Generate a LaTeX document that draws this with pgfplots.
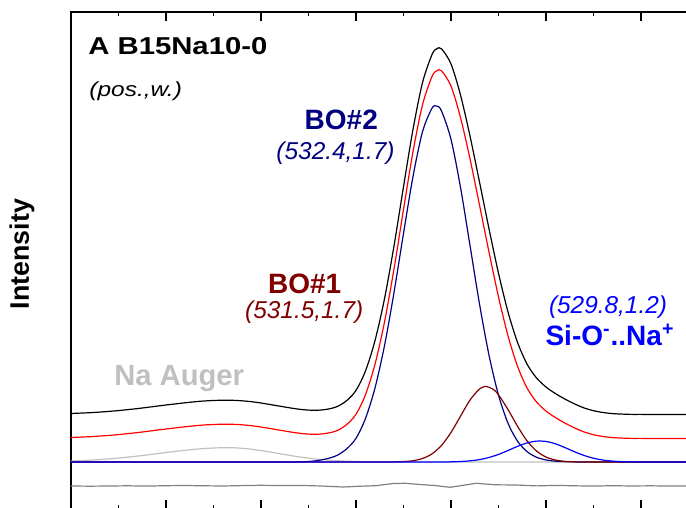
\documentclass[border=0pt]{standalone}
\usepackage{fontspec}
\setmainfont{Liberation Sans}
\usepackage{graphicx}
\usepackage{pgfplots}
\pgfplotsset{compat=1.18}
\definecolor{navyc}{HTML}{000080}
\definecolor{maroonc}{HTML}{800000}
\definecolor{bluec}{HTML}{0000FF}
\definecolor{redc}{HTML}{FF0000}
\definecolor{augerc}{HTML}{C0C0C0}
\definecolor{residc}{HTML}{808080}
\begin{document}
\begin{tikzpicture}
\useasboundingbox (0,0) rectangle (343pt,254pt);
\clip (0,0) rectangle (343pt,254pt);
\begin{axis}[
  at={(35.5pt,-0.75pt)}, anchor=south west,
  scale only axis, width=332.5pt, height=248.75pt,
  x dir=reverse, xmin=526, xmax=540, ymin=-47.5, ymax=450,
  xtick={526,528,...,540}, minor x tick num=1, xticklabels={},
  ytick=\empty, xtick pos=both, tick align=inside,
  major tick length=4.5pt, minor tick length=2.25pt,
  axis line style={line width=0.8pt},
  every tick/.style={black, line width=0.8pt},
  clip=true,
]
% residual
\addplot[residc, line width=0.6pt] coordinates {
(540.0,-24.0)(539.6,-24.2)(539.2,-24.0)(538.8,-23.8)(538.4,-24.1)(538.0,-23.7)
(537.6,-23.5)(537.2,-23.8)(536.8,-24.0)(536.4,-23.6)(536.0,-23.3)(535.6,-23.6)
(535.2,-23.4)(534.8,-23.9)(534.27,-25.0)(533.9,-24.2)(533.58,-23.7)(533.22,-21.5)
(532.97,-21.3)(532.65,-22.5)(532.34,-23.5)(532.02,-25.3)(531.77,-23.5)(531.47,-21.3)
(531.07,-22.8)(530.63,-23.0)(530.2,-23.9)(529.8,-23.4)(529.4,-23.8)(529.0,-24.1)
(528.6,-23.7)(528.2,-24.0)(527.8,-23.8)(527.4,-24.1)(527.0,-23.9)(526.6,-24.0)(526.0,-23.9)
};
% data (black)
\addplot[black, line width=0.6pt, smooth] coordinates {
(540.0,48.5)(539.8,48.9)(539.6,49.3)(539.4,49.9)(539.2,50.6)(539.0,51.4)
(538.8,52.4)(538.6,53.4)(538.4,54.6)(538.2,55.8)(538.0,57.0)(537.8,58.1)
(537.6,59.2)(537.4,60.2)(537.2,61.0)(537.0,61.5)(536.8,61.8)(536.6,61.7)
(536.4,61.2)(536.2,60.3)(536.0,59.0)(535.8,57.4)(535.6,55.8)(535.4,54.2)
(535.2,52.8)(535.0,51.9)(534.8,51.8)(534.6,52.8)(534.4,55.4)(534.2,61.2)
(534.0,71.6)(533.8,91.1)(533.6,121.3)(533.4,163.2)(533.2,216.0)(533.0,275.2)
(532.8,332.6)(532.6,379.3)(532.4,407.4)(532.3,413.2)(532.2,413.2)(532.0,398.1)
(531.8,367.0)(531.6,326.0)(531.4,280.1)(531.2,233.3)(531.0,188.8)(530.8,150.1)
(530.6,119.7)(530.4,98.0)(530.2,84.1)(530.0,75.0)(529.8,68.4)(529.6,62.9)
(529.4,58.1)(529.2,54.1)(529.0,51.3)(528.8,49.5)(528.6,48.4)(528.4,47.9)
(528.2,47.6)(528.0,47.6)(527.6,47.5)(527.2,47.5)(526.8,47.5)(526.4,47.5)(526.0,47.5)
};
% envelope (red)
\addplot[redc, line width=0.6pt, smooth] coordinates {
(540.0,24.5)(539.8,24.9)(539.6,25.3)(539.4,25.9)(539.2,26.6)(539.0,27.4)
(538.8,28.4)(538.6,29.4)(538.4,30.6)(538.2,31.8)(538.0,33.0)(537.8,34.1)
(537.6,35.2)(537.4,36.2)(537.2,37.0)(537.0,37.5)(536.8,37.8)(536.6,37.7)
(536.4,37.2)(536.2,36.3)(536.0,35.0)(535.8,33.4)(535.6,31.8)(535.4,30.2)
(535.2,28.8)(535.0,27.9)(534.8,27.8)(534.6,28.8)(534.4,31.4)(534.2,37.3)
(534.0,47.7)(533.8,67.3)(533.6,97.7)(533.4,139.9)(533.2,193.0)(533.0,252.5)
(532.8,310.2)(532.6,357.2)(532.4,385.4)(532.3,391.2)(532.2,391.2)(532.0,375.9)
(531.8,344.5)(531.6,303.2)(531.4,257.0)(531.2,209.9)(531.0,165.2)(530.8,126.3)
(530.6,95.8)(530.4,74.1)(530.2,60.1)(530.0,51.0)(529.8,44.4)(529.6,38.9)
(529.4,34.1)(529.2,30.1)(529.0,27.3)(528.8,25.5)(528.6,24.4)(528.4,23.9)
(528.2,23.6)(528.0,23.6)(527.6,23.5)(527.2,23.5)(526.8,23.5)(526.4,23.5)(526.0,23.5)
};
% Na Auger (light gray)
\addplot[augerc, line width=0.6pt, smooth] coordinates {
(540.0,1.0)(539.8,1.36)(539.6,1.83)(539.4,2.41)(539.2,3.10)(539.0,3.92)
(538.8,4.87)(538.6,5.92)(538.4,7.05)(538.2,8.25)(538.0,9.46)(537.8,10.64)
(537.6,11.73)(537.4,12.69)(537.2,13.45)(537.0,13.99)(536.8,14.27)(536.6,14.24)
(536.4,13.73)(536.2,12.77)(536.0,11.45)(535.8,9.90)(535.6,8.26)(535.4,6.65)
(535.2,5.15)(535.0,3.86)(534.8,2.78)(534.6,1.94)(534.4,1.30)(534.2,0.84)
(534.0,0.52)(533.8,0.32)(533.6,0.18)(533.4,0.10)(533.2,0.05)(533.0,0.0)
(532.0,0.0)(530.0,0.0)(528.0,0.0)(526.0,0.0)
};
% BO#2 (navy)
\addplot[navyc, line width=0.6pt, smooth] coordinates {
(540.0,0)(538.0,0)(536.0,0)(535.4,0)(535.2,0.15)(535.0,0.5)(534.8,1.5)(534.6,3.4)
(534.4,6.6)(534.2,13.0)(534.0,23.7)(533.8,43.5)(533.6,74.0)(533.4,116.3)
(533.2,169.4)(533.0,228.5)(532.8,285.4)(532.6,330.2)(532.4,353.8)(532.3,355.9)
(532.2,351.1)(532.0,322.7)(531.8,274.7)(531.6,216.6)(531.4,158.1)(531.2,106.9)
(531.0,66.9)(530.8,38.8)(530.6,20.9)(530.4,10.4)(530.2,4.78)(530.0,2.04)
(529.8,0.81)(529.6,0.30)(529.4,0.10)(529.2,0)(528.0,0)(526.0,0)
};
% BO#1 (maroon)
\addplot[maroonc, line width=0.6pt, smooth] coordinates {
(540.0,0)(536.0,0)(533.4,0)(533.2,0.1)(533.0,0.42)(532.8,1.29)(532.6,3.47)
(532.4,8.13)(532.2,16.6)(532.0,29.5)(531.8,45.8)(531.6,61.9)(531.4,73.0)
(531.26,75.5)(531.1,72.3)(531.0,67.2)(530.8,52.5)(530.6,35.8)(530.4,21.2)
(530.2,11.0)(530.0,4.96)(529.8,1.95)(529.6,0.67)(529.4,0.20)(529.2,0.05)
(529.0,0)(528.0,0)(526.0,0)
};
% Si-O..Na (blue)
\addplot[bluec, line width=0.6pt, smooth] coordinates {
(540.0,0)(536.0,0)(532.4,0)(532.0,0.19)(531.8,0.50)(531.6,1.15)(531.4,2.40)
(531.2,4.51)(531.0,7.59)(530.8,11.49)(530.6,15.61)(530.4,19.04)(530.2,20.86)
(530.0,20.53)(529.8,18.14)(529.6,14.40)(529.4,10.26)(529.2,6.57)(529.0,3.78)
(528.8,1.95)(528.6,0.90)(528.4,0.38)(528.2,0.14)(528.0,0.05)(527.8,0)(526.0,0)
};
\end{axis}
\node[anchor=base west, inner sep=0pt, font=\bfseries\fontsize{12.2}{14}\selectfont] at (44pt,226.5pt) {\scalebox{1.2}[1]{A B15Na10-0}};
\node[anchor=base west, inner sep=0pt, font=\itshape\fontsize{10.2}{12}\selectfont] at (44.5pt,205.75pt) {\scalebox{1.2}[1]{(pos.,w.)}};
\node[anchor=base, inner sep=0pt, text=navyc, font=\bfseries\fontsize{14}{16}\selectfont] at (170.65pt,189.35pt) {BO\#2};
\node[anchor=base, inner sep=0pt, text=navyc, font=\itshape\fontsize{12.2}{14}\selectfont] at (167.75pt,174pt) {(532.4,1.7)};
\node[anchor=base, inner sep=0pt, text=maroonc, font=\bfseries\fontsize{14}{16}\selectfont] at (152.35pt,107.35pt) {BO\#1};
\node[anchor=base, inner sep=0pt, text=maroonc, font=\itshape\fontsize{12.2}{14}\selectfont] at (152.1pt,94.85pt) {(531.5,1.7)};
\node[anchor=base, inner sep=0pt, text=bluec, font=\itshape\fontsize{12.2}{14}\selectfont] at (304pt,97pt) {(529.8,1.2)};
\node[anchor=base, inner sep=0pt, text=bluec, font=\bfseries\fontsize{14}{16}\selectfont] at (305pt,81.2pt) {Si-O\textsuperscript{-}..Na\textsuperscript{+}};
\node[anchor=base, inner sep=0pt, text=augerc, font=\bfseries\fontsize{14.6}{16}\selectfont] at (89.6pt,61.2pt) {Na Auger};
\node[rotate=90, inner sep=0pt, font=\bfseries\fontsize{13.4}{15}\selectfont] at (11pt,127pt) {Intensity};
\end{tikzpicture}
\end{document}
